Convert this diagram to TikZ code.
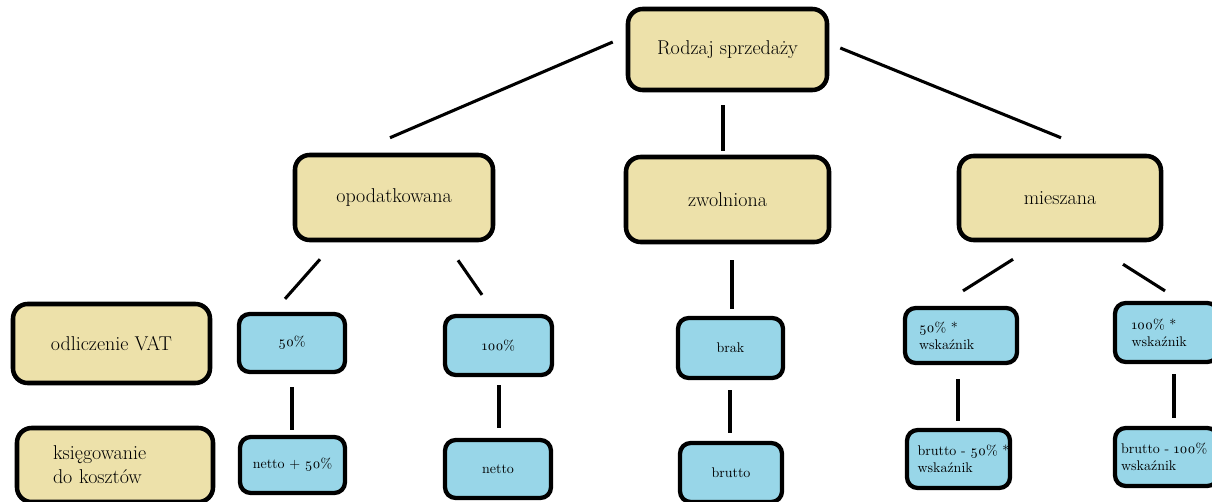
\documentclass[tikz,border=0pt]{standalone}
\usepackage{fontspec}
\setmainfont{Latin Modern Roman}
\newfontfamily\osfont{Latin Modern Roman}[Numbers=OldStyle]
\usetikzlibrary{calc}
\definecolor{beige}{HTML}{EDE1AA}
\definecolor{skyb}{HTML}{98D6E8}
\begin{document}
\begin{tikzpicture}[x=0.75pt,y=-0.75pt,
  bigbox/.style 2 args={draw=black, line width=3.4pt, fill=beige, rounded corners=11pt,
     minimum width=#1*0.75pt, minimum height=#2*0.75pt, inner sep=0pt,
     font=\fontsize{15}{18}\selectfont},
  smallbox/.style 2 args={draw=black, line width=3.2pt, fill=skyb, rounded corners=8pt,
     minimum width=#1*0.75pt, minimum height=#2*0.75pt, inner sep=0pt,
     font=\osfont\fontsize{10.5}{12.5}\selectfont},
  conn/.style={line width=2.3pt, line cap=butt}]
\useasboundingbox (0,0) rectangle (1212,502);
% top level
\node[bigbox={199}{81}] (top) at (727.5,49.5) {Rodzaj sprzedaży};
\node[bigbox={198}{85}] (opod) at (394,197.5) {opodatkowana};
\node[bigbox={203}{85}] (zwol) at (727.5,199.5) {zwolniona};
\node[bigbox={202}{84}] (mies) at (1060,198) {mieszana};
% row labels
\node[bigbox={197}{79}] (odl) at (111.5,343.5) {odliczenie VAT};
\node[bigbox={196}{74}, text width=124*0.75pt, align=left] (ksieg) at (115,465) {księgowanie\\do kosztów};
% blue boxes
\node[smallbox={106}{58}] (p50) at (292,343) {50\%};
\node[smallbox={105}{56}] (n50) at (292.5,465) {netto + 50\%};
\node[smallbox={107}{59}] (p100) at (498.5,345.5) {100\%};
\node[smallbox={106}{58}] (netto) at (498,469) {netto};
\node[smallbox={105}{60}] (brak) at (730.5,348) {brak};
\node[smallbox={102}{59}] (brutto) at (731,472.5) {brutto};
\node[smallbox={112}{55}, text width=84*0.75pt, align=left] (m50) at (961,335.5) {50\% *\\wskaźnik};
\node[smallbox={103}{58}, text width=82*0.75pt, align=left] (b50) at (958.5,459) {\mbox{brutto - 50\% *}\\wskaźnik};
\node[smallbox={103}{59}, text width=70*0.75pt, align=left] (m100) at (1166.5,332.5) {\mbox{100\% *}\\wskaźnik};
\node[smallbox={103}{58}, text width=91*0.75pt, align=left] (b100) at (1166.5,457) {\mbox{brutto - 100\% *}\\wskaźnik};
% connectors
\draw[conn] ($(top.west)+(-13,-7.5)$) -- ($(opod.north)+(-4,-15)$);
\draw[conn] ($(top.south)+(-4.5,13)$) -- ($(zwol.north)+(-4.5,-4)$);
\draw[conn] ($(top.east)+(11,-1.5)$) -- ($(mies.north)+(1,-16)$);
\draw[conn] ($(opod.south)+(-74,17)$) -- ($(p50.north)+(-7,-13)$);
\draw[conn] ($(opod.south)+(64,18)$) -- ($(p100.north)+(-16.5,-19)$);
\draw[conn] ($(zwol.south)+(4.5,16)$) -- ($(brak.north)+(1.5,-7)$);
\draw[conn] ($(mies.south)+(-47,17)$) -- ($(m50.north)+(2,-15)$);
\draw[conn] ($(mies.south)+(63,22)$) -- ($(m100.north)+(-1.5,-10)$);
\draw[conn] ($(p50.south)+(0,13)$) -- ($(n50.north)+(-0.5,-5)$);
\draw[conn] ($(p100.south)+(0.5,8)$) -- ($(netto.north)+(1,-10)$);
\draw[conn] ($(brak.south)+(-0.5,10)$) -- ($(brutto.north)+(-1,-8)$);
\draw[conn] ($(m50.south)+(-3,14)$) -- ($(b50.north)+(-0.5,-7)$);
\draw[conn] ($(m100.south)+(7.5,10)$) -- ($(b100.north)+(7.5,-8)$);
\end{tikzpicture}
\end{document}
